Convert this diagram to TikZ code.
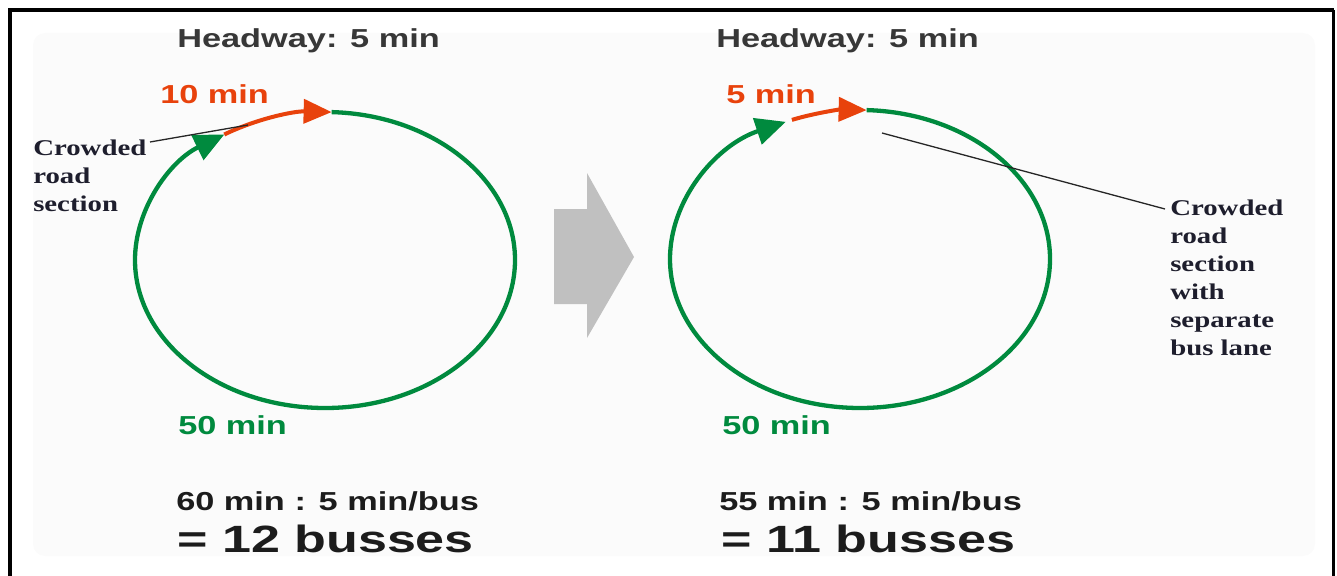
\documentclass[tikz,border=0pt]{standalone}
\usepackage{fontspec}
\setmainfont{Liberation Serif}
\newfontfamily\arialf{Liberation Sans}
\usetikzlibrary{arrows.meta}
\definecolor{rd}{RGB}{232,66,12}
\definecolor{gn}{RGB}{0,138,62}
\definecolor{hd}{RGB}{55,55,55}
\definecolor{tx}{RGB}{28,28,28}
\definecolor{lbl}{RGB}{30,30,45}
\definecolor{gy}{RGB}{192,192,192}
\definecolor{panel}{RGB}{251,251,251}
\begin{document}
\begin{tikzpicture}[x=1pt,y=-1pt,
  sans/.style={font=\arialf\bfseries\fontsize{26}{31}\selectfont, inner sep=0, anchor=base west, xscale=1.32},
  big/.style={font=\arialf\bfseries\fontsize{38}{45}\selectfont, inner sep=0, anchor=base west, xscale=1.37},
  serif/.style={font=\bfseries\fontsize{22.5}{28}\selectfont, inner sep=0, anchor=north west, align=left, xscale=1.28, text=lbl},
  ring/.style={line width=4.3pt, draw=gn, -{Triangle[length=30pt,width=27pt,fill=gn]}},
  crowd/.style={line width=4pt, draw=rd, -{Triangle[length=28pt,width=24pt,fill=rd]}},
  pointer/.style={line width=1.3pt, draw=black!85}]
\useasboundingbox (0,0) rectangle (1337,575);
\clip (0,0) rectangle (1337,575);
% faint background panel
\fill[panel, rounded corners=12pt] (33,33) rectangle (1315,556);
% frame
\draw[line width=4pt] (10,590) -- (10,10) -- (1334,10);
\draw[line width=3pt] (1333.5,10) -- (1333.5,590);
% centres
\coordinate (c1) at (325,260);
\coordinate (c2) at (860,259);
% left loop
\draw[ring] ([shift={(-88:190 and 148)}]c1) arc[start angle=-88, end angle=238, x radius=190, y radius=148];
\draw[crowd] ([shift={(-122:190 and 148)}]c1) arc[start angle=-122, end angle=-88, x radius=190, y radius=148];
% right loop
\draw[ring] ([shift={(-88:190 and 149)}]c2) arc[start angle=-88, end angle=247, x radius=190, y radius=149];
\draw[crowd] ([shift={(-111:190 and 149)}]c2) arc[start angle=-111, end angle=-88, x radius=190, y radius=149];
% gray transition arrow
\fill[gy] (554,209) -- (587,209) -- (587,173) -- (634,257) -- (587,338) -- (587,304) -- (554,304) -- cycle;
% texts left
\node[sans, text=hd] (h1) at (177,48) {Headway: 5 min};
\node[sans, text=rd] (t1) at (160,104) {10 min};
\node[sans, text=gn] (g1) at (178,434) {50 min};
\node[sans, text=tx] (f1) at (176,510) {60 min : 5 min/bus};
\node[big, text=tx] (r1) at (177,552) {= 12 busses};
\node[serif] (lab1) at (33,140) {Crowded\\road\\section};
% texts right
\node[sans, text=hd] (h2) at (716,48) {Headway: 5 min};
\node[sans, text=rd] (t2) at (726,104) {5 min};
\node[sans, text=gn] (g2) at (722,434) {50 min};
\node[sans, text=tx] (f2) at (719,510) {55 min : 5 min/bus};
\node[big, text=tx] (r2) at (721,552) {= 11 busses};
\node[serif] (lab2) at (1170,200) {Crowded\\road\\section\\with\\separate\\bus lane};
% pointers
\coordinate (p1a) at (150,142);
\coordinate (p1b) at (248,125);
\draw[pointer] (p1a) -- (p1b);
\coordinate (p2a) at (882,133);
\coordinate (p2b) at (1165,209);
\draw[pointer] (p2a) -- (p2b);
\end{tikzpicture}
\end{document}
